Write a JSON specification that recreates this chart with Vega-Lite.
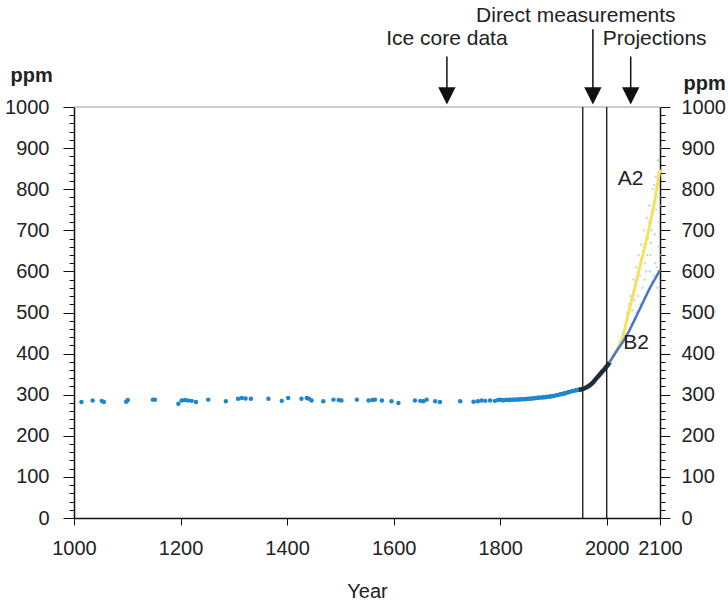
{
  "$schema": "https://vega.github.io/schema/vega-lite/v6.json",
  "width": 586,
  "height": 411,
  "autosize": {"type": "none"},
  "padding": {"left": 74, "top": 107, "right": 68, "bottom": 85},
  "background": "white",
  "config": {
    "font": "Liberation Sans",
    "view": {"stroke": null},
    "axis": {"labelFont": "Liberation Sans", "titleFont": "Liberation Sans", "labelColor": "#222", "titleColor": "#222", "domainColor": "#111", "tickColor": "#111", "grid": false}
  },
  "datasets": {
    "ice": [
      {"year": 1014, "ppm": 282}, {"year": 1035, "ppm": 286}, {"year": 1052, "ppm": 285}, {"year": 1056, "ppm": 282},
      {"year": 1098, "ppm": 283}, {"year": 1101, "ppm": 287}, {"year": 1148, "ppm": 288}, {"year": 1152, "ppm": 288},
      {"year": 1196, "ppm": 278}, {"year": 1202, "ppm": 286}, {"year": 1208, "ppm": 287}, {"year": 1214, "ppm": 286},
      {"year": 1221, "ppm": 285}, {"year": 1229, "ppm": 282}, {"year": 1252, "ppm": 288}, {"year": 1285, "ppm": 284},
      {"year": 1308, "ppm": 290}, {"year": 1315, "ppm": 292}, {"year": 1322, "ppm": 291}, {"year": 1332, "ppm": 290},
      {"year": 1365, "ppm": 290}, {"year": 1390, "ppm": 285}, {"year": 1402, "ppm": 292}, {"year": 1427, "ppm": 290},
      {"year": 1437, "ppm": 292}, {"year": 1441, "ppm": 290}, {"year": 1446, "ppm": 286}, {"year": 1468, "ppm": 284},
      {"year": 1487, "ppm": 288}, {"year": 1497, "ppm": 287}, {"year": 1502, "ppm": 286}, {"year": 1531, "ppm": 288},
      {"year": 1553, "ppm": 286}, {"year": 1560, "ppm": 287}, {"year": 1565, "ppm": 288}, {"year": 1578, "ppm": 286},
      {"year": 1596, "ppm": 284}, {"year": 1609, "ppm": 280}, {"year": 1640, "ppm": 286}, {"year": 1650, "ppm": 285},
      {"year": 1656, "ppm": 284}, {"year": 1662, "ppm": 288}, {"year": 1678, "ppm": 284}, {"year": 1687, "ppm": 282},
      {"year": 1725, "ppm": 284}, {"year": 1750, "ppm": 283}, {"year": 1758, "ppm": 284}, {"year": 1765, "ppm": 286},
      {"year": 1772, "ppm": 285}, {"year": 1781, "ppm": 286}, {"year": 1790, "ppm": 285}, {"year": 1796, "ppm": 287},
      {"year": 1800, "ppm": 288}, {"year": 1806, "ppm": 286}, {"year": 1812, "ppm": 288}, {"year": 1818, "ppm": 287},
      {"year": 1825, "ppm": 288}, {"year": 1832, "ppm": 288}, {"year": 1838, "ppm": 289}, {"year": 1845, "ppm": 289},
      {"year": 1852, "ppm": 290}, {"year": 1858, "ppm": 291}, {"year": 1865, "ppm": 292}, {"year": 1872, "ppm": 293},
      {"year": 1880, "ppm": 294}, {"year": 1887, "ppm": 295}, {"year": 1894, "ppm": 296}, {"year": 1900, "ppm": 297},
      {"year": 1907, "ppm": 299}, {"year": 1914, "ppm": 301}, {"year": 1921, "ppm": 303}, {"year": 1928, "ppm": 306},
      {"year": 1935, "ppm": 309}, {"year": 1942, "ppm": 311}, {"year": 1948, "ppm": 312}, {"year": 1954, "ppm": 314}
    ],
    "modern": [
      {"year": 1800, "ppm": 287}, {"year": 1840, "ppm": 289}, {"year": 1870, "ppm": 292}, {"year": 1900, "ppm": 297},
      {"year": 1920, "ppm": 303}, {"year": 1940, "ppm": 310}, {"year": 1955, "ppm": 314}
    ],
    "direct": [
      {"year": 1948, "ppm": 312}, {"year": 1958, "ppm": 315}, {"year": 1965, "ppm": 320}, {"year": 1970, "ppm": 325},
      {"year": 1975, "ppm": 331}, {"year": 1980, "ppm": 339}, {"year": 1985, "ppm": 346}, {"year": 1990, "ppm": 354},
      {"year": 1995, "ppm": 361}, {"year": 2000, "ppm": 369}, {"year": 2006, "ppm": 379}
    ],
    "a2": [
      {"year": 2005, "ppm": 378}, {"year": 2010, "ppm": 388}, {"year": 2020, "ppm": 412}, {"year": 2030, "ppm": 440},
      {"year": 2040, "ppm": 494}, {"year": 2050, "ppm": 546}, {"year": 2060, "ppm": 600}, {"year": 2070, "ppm": 652},
      {"year": 2080, "ppm": 708}, {"year": 2090, "ppm": 772}, {"year": 2100, "ppm": 848}
    ],
    "b2": [
      {"year": 2005, "ppm": 378}, {"year": 2010, "ppm": 389}, {"year": 2020, "ppm": 409}, {"year": 2030, "ppm": 428},
      {"year": 2040, "ppm": 450}, {"year": 2050, "ppm": 476}, {"year": 2060, "ppm": 503}, {"year": 2070, "ppm": 530},
      {"year": 2080, "ppm": 557}, {"year": 2090, "ppm": 580}, {"year": 2100, "ppm": 603}
    ],
    "unc": [
      {"year": 2025, "ppm": 430}, {"year": 2030, "ppm": 450}, {"year": 2035, "ppm": 470}, {"year": 2038, "ppm": 500},
      {"year": 2042, "ppm": 520}, {"year": 2045, "ppm": 540}, {"year": 2048, "ppm": 505}, {"year": 2050, "ppm": 580},
      {"year": 2053, "ppm": 560}, {"year": 2055, "ppm": 610}, {"year": 2058, "ppm": 540}, {"year": 2060, "ppm": 640},
      {"year": 2062, "ppm": 590}, {"year": 2065, "ppm": 665}, {"year": 2067, "ppm": 560}, {"year": 2070, "ppm": 700},
      {"year": 2072, "ppm": 620}, {"year": 2075, "ppm": 730}, {"year": 2077, "ppm": 680}, {"year": 2080, "ppm": 760},
      {"year": 2082, "ppm": 640}, {"year": 2084, "ppm": 700}, {"year": 2086, "ppm": 800}, {"year": 2088, "ppm": 590},
      {"year": 2090, "ppm": 690}, {"year": 2092, "ppm": 830}, {"year": 2093, "ppm": 750}, {"year": 2095, "ppm": 560},
      {"year": 2096, "ppm": 870}, {"year": 2097, "ppm": 660}, {"year": 2098, "ppm": 720}, {"year": 2099, "ppm": 900},
      {"year": 2099, "ppm": 780}, {"year": 2100, "ppm": 640}, {"year": 2094, "ppm": 610}, {"year": 2085, "ppm": 575},
      {"year": 2074, "ppm": 600}, {"year": 2063, "ppm": 520}, {"year": 2056, "ppm": 500}, {"year": 2046, "ppm": 470},
      {"year": 2052, "ppm": 530}, {"year": 2058, "ppm": 580}, {"year": 2064, "ppm": 620}, {"year": 2069, "ppm": 650},
      {"year": 2076, "ppm": 640}, {"year": 2079, "ppm": 720}, {"year": 2083, "ppm": 670}, {"year": 2087, "ppm": 740},
      {"year": 2091, "ppm": 620}, {"year": 2094, "ppm": 800}, {"year": 2097, "ppm": 840}, {"year": 2098, "ppm": 600},
      {"year": 2100, "ppm": 760}, {"year": 2089, "ppm": 810}, {"year": 2081, "ppm": 600}, {"year": 2071, "ppm": 580}
    ],
    "arrows": [
      {"year": 1700, "top": 1123, "bottom": 1035, "tip": 1027},
      {"year": 1974, "top": 1189, "bottom": 1035, "tip": 1027},
      {"year": 2045, "top": 1123, "bottom": 1035, "tip": 1027}
    ],
    "labels": [
      {"year": 1700, "ppm": 1150, "text": "Ice core data"},
      {"year": 1942, "ppm": 1208, "text": "Direct measurements"},
      {"year": 2090, "ppm": 1150, "text": "Projections"},
      {"year": 2045, "ppm": 810, "text": "A2"},
      {"year": 2055, "ppm": 410, "text": "B2"}
    ],
    "vlines": [{"year": 1955, "lo": 0, "hi": 1000}, {"year": 2000, "lo": 0, "hi": 1000}]
  },
  "encoding": {
    "x": {
      "field": "year", "type": "quantitative",
      "scale": {"domain": [1000, 2100], "nice": false, "zero": false},
      "axis": {"values": [1000, 1200, 1400, 1600, 1800, 2000, 2100], "format": "d", "tickSize": 7, "labelFontSize": 20, "labelPadding": 13, "labelFlush": false, "labelOverlap": false, "title": "Year", "titleFontSize": 20, "titleFontWeight": "normal", "titlePadding": 23, "domainWidth": 1.5}
    },
    "y": {
      "field": "ppm", "type": "quantitative",
      "scale": {"domain": [0, 1000], "nice": false},
      "axis": null
    }
  },
  "layer": [
    {
      "data": {"values": [{"v": 1000}]},
      "mark": {"type": "rule", "color": "#999", "strokeWidth": 1},
      "encoding": {"y": {"field": "v", "type": "quantitative", "axis": {"orient": "left", "values": [0,20,40,60,80,100,120,140,160,180,200,220,240,260,280,300,320,340,360,380,400,420,440,460,480,500,520,540,560,580,600,620,640,660,680,700,720,740,760,780,800,820,840,860,880,900,920,940,960,980,1000], "format": "d", "labelExpr": "datum.value % 100 === 0 ? datum.label : ''", "tickSize": {"condition": {"test": "datum.value % 100 === 0", "value": 11}, "value": 5}, "labelFontSize": 20, "labelPadding": 14, "title": "ppm", "titleAngle": 0, "titleFontSize": 20, "titleFontWeight": "bold", "titleAlign": "left", "titleBaseline": "middle", "titleX": -64, "titleY": -32, "domainWidth": 1.5}}, "x": {"value": 0}, "x2": {"value": 586}}
    },
    {
      "data": {"values": [{"v": 1000}]},
      "mark": {"type": "rule", "opacity": 0},
      "encoding": {"y": {"field": "v", "type": "quantitative", "axis": {"orient": "right", "values": [0,20,40,60,80,100,120,140,160,180,200,220,240,260,280,300,320,340,360,380,400,420,440,460,480,500,520,540,560,580,600,620,640,660,680,700,720,740,760,780,800,820,840,860,880,900,920,940,960,980,1000], "format": "d", "labelExpr": "datum.value % 100 === 0 ? datum.label : ''", "tickSize": {"condition": {"test": "datum.value % 100 === 0", "value": 10}, "value": 5}, "labelFontSize": 20, "labelPadding": 11, "title": "ppm", "titleAngle": 0, "titleFontSize": 20, "titleFontWeight": "bold", "titleAlign": "left", "titleBaseline": "middle", "titleX": 23, "titleY": -24, "domainWidth": 1.5}}, "x": {"value": 0}, "x2": {"value": 586}}
    },
    {
      "data": {"name": "vlines"},
      "mark": {"type": "rule", "color": "#111", "strokeWidth": 1.3},
      "encoding": {"y": {"field": "lo", "type": "quantitative"}, "y2": {"field": "hi"}}
    },
    {
      "data": {"name": "unc"},
      "mark": {"type": "circle", "size": 7, "color": "#9ccbe0", "opacity": 0.6},
      "encoding": {"y": {"field": "ppm", "type": "quantitative"}}
    },
    {
      "data": {"name": "ice"},
      "mark": {"type": "circle", "size": 20, "color": "#1c86cf", "opacity": 1},
      "encoding": {"y": {"field": "ppm", "type": "quantitative"}}
    },
    {
      "data": {"name": "modern"},
      "mark": {"type": "line", "color": "#1c86cf", "strokeWidth": 4, "interpolate": "monotone"},
      "encoding": {"y": {"field": "ppm", "type": "quantitative"}}
    },
    {
      "data": {"name": "direct"},
      "mark": {"type": "line", "color": "#1e2c3c", "strokeWidth": 4.5, "interpolate": "monotone"},
      "encoding": {"y": {"field": "ppm", "type": "quantitative"}}
    },
    {
      "data": {"name": "a2"},
      "mark": {"type": "line", "color": "#f5e15a", "strokeWidth": 3, "interpolate": "monotone"},
      "encoding": {"y": {"field": "ppm", "type": "quantitative"}}
    },
    {
      "data": {"name": "b2"},
      "mark": {"type": "line", "color": "#4c73cf", "strokeWidth": 2.5, "interpolate": "monotone"},
      "encoding": {"y": {"field": "ppm", "type": "quantitative"}}
    },
    {
      "data": {"name": "arrows"},
      "mark": {"type": "rule", "color": "#111", "strokeWidth": 1.5},
      "encoding": {"y": {"field": "top", "type": "quantitative"}, "y2": {"field": "bottom"}}
    },
    {
      "data": {"name": "arrows"},
      "mark": {"type": "point", "shape": "M-1,-1L1,-1L0,1Z", "size": 300, "filled": true, "color": "#111", "opacity": 1},
      "encoding": {"y": {"field": "tip", "type": "quantitative"}}
    },
    {
      "data": {"name": "labels"},
      "mark": {"type": "text", "fontSize": 21, "color": "#222", "align": "center", "baseline": "alphabetic", "font": "Liberation Sans"},
      "encoding": {"y": {"field": "ppm", "type": "quantitative"}, "text": {"field": "text"}}
    }
  ]
}
